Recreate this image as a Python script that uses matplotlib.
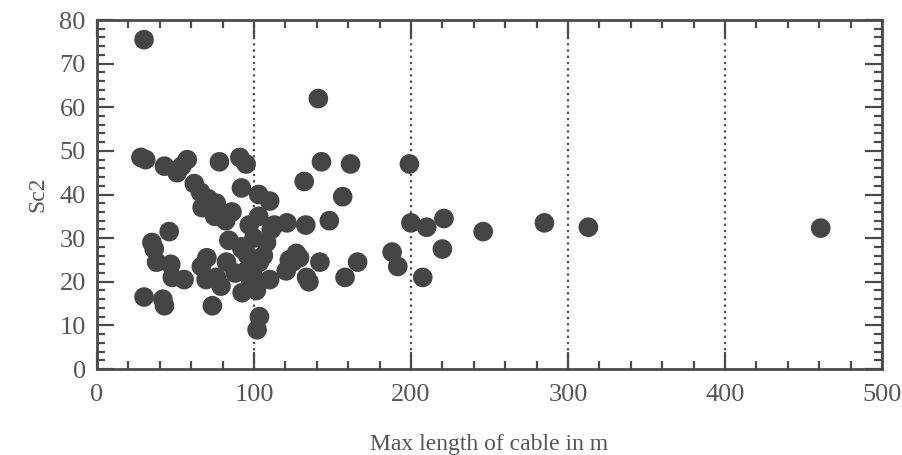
import matplotlib.pyplot as plt
from matplotlib.ticker import MultipleLocator

plt.rcParams['font.family'] = ['Liberation Serif', 'DejaVu Serif']

# max cable length (m) and Sc2
cableLength = [30, 141, 28, 31, 43, 51, 57.5, 62, 66, 67, 75, 78, 91, 95, 92, 103, 110,
               76, 82, 103, 121, 111, 92, 46, 35, 38, 48, 55.5, 30, 42, 43, 73.5,
               70, 66.5, 69.5, 79, 92.5, 82.5, 76, 95, 103.5, 110, 101.5, 92.5,
               103.5, 102, 122.5, 129, 133.5, 120.5, 84, 108, 143, 161.5, 132, 156.5,
               148, 133, 199, 200, 210, 221, 220, 246, 285, 313, 461, 207.5, 188,
               191.6, 166, 158, 142, 135, 124.5, 127, 96, 99, 88, 113, 100, 86, 97,
               47, 36.5, 106, 98, 54, 71]
sc2 = [75.5, 62, 48.5, 48, 46.5, 45, 48, 42.5, 40.5, 37, 35, 47.5, 48.5, 47, 41.5, 40, 38.5,
       38, 34, 35, 33.5, 32, 28, 31.5, 29, 24.5, 21, 20.5, 16.5, 16, 14.5, 14.5,
       25.5, 23.5, 20.5, 19, 27.5, 24.5, 21, 22.5, 24.5, 20.5, 18, 17.5,
       12, 9, 25, 25.5, 21, 22.5, 29.5, 29, 47.5, 47, 43, 39.5,
       34, 33, 47, 33.5, 32.5, 34.5, 27.5, 31.5, 33.5, 32.5, 32.3, 21, 26.8,
       23.5, 24.5, 21, 24.5, 20, 24.5, 26.5, 26, 22, 22, 33, 30, 36, 33,
       24, 27.5, 26, 20, 46.5, 39]

fig = plt.figure(figsize=(9.02, 4.55), dpi=100)
ax = fig.add_axes([0.1075, 0.189, 0.8703, 0.767])
grey = '#4a4a4a'

ax.scatter(cableLength, sc2, s=200, color='#454545', edgecolors='none', zorder=3)

ax.set_xlim(0, 500)
ax.set_ylim(0, 80)
ax.xaxis.set_major_locator(MultipleLocator(100))
ax.xaxis.set_minor_locator(MultipleLocator(20))
ax.yaxis.set_major_locator(MultipleLocator(10))
ax.yaxis.set_minor_locator(MultipleLocator(2))
ax.tick_params(which='both', direction='in', top=True, right=True, color=grey,
               width=1.6, labelsize=19, labelcolor='#555555')
ax.tick_params(which='major', length=12, pad=8)
ax.tick_params(which='minor', length=6)
ax.tick_params(axis='x', which='major', pad=11)
for s in ax.spines.values():
    s.set_color(grey)
    s.set_linewidth(2)

for xv in [100, 200, 300, 400]:
    ax.axvline(xv, color=grey, linestyle=(0, (1, 1.8)), linewidth=1.6, zorder=1)

ax.set_xlabel('Max length of cable in m', fontsize=17, color='#555555', labelpad=20)
ax.set_ylabel('Sc2', fontsize=17, color='#555555', labelpad=8)

fig.savefig('out.png', dpi=100)
